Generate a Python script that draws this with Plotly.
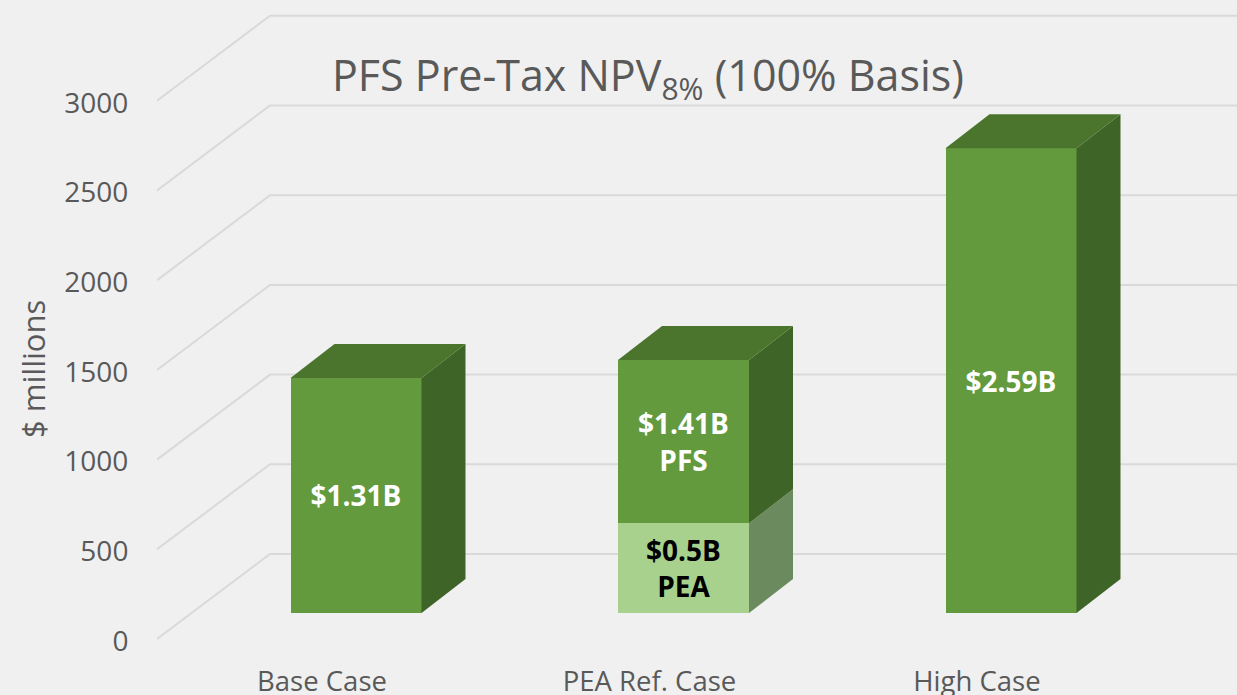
import plotly.graph_objects as go

categories = ["Base Case", "PEA Ref. Case", "High Case"]
pea_positions = [1]
pea_values = [500]
pfs_values = [1310, 910, 2590]
pfs_labels = ["<b>$1.31B</b>", "<b>$1.41B<br>PFS</b>", "<b>$2.59B</b>"]
pea_labels = ["<b>$0.5B<br>PEA</b>"]
y_ticks = [0, 500, 1000, 1500, 2000, 2500, 3000]

W, H = 1237, 695
PX_X = 327.5
PX_Y = 0.1794
LEFT, BOTTOM = 157, 656
X0PX, Y0PX = 356, 613


def xu(px):
    return (px - X0PX) / PX_X


def yu(px):
    return (Y0PX - px) / PX_Y


bar_w = 131 / PX_X
depth_x = 44 / PX_X
depth_y = 34 / PX_Y
x_range = [xu(LEFT), xu(W)]
y_range = [yu(BOTTOM), yu(0)]
wall_front_y = yu(639)
wall_back_y = yu(554)
wall_back_x = xu(270)
label_y = yu(641)
cat_shift = -34 / PX_X

FACE, TOP, SIDE = "#639A3E", "#4B742C", "#3F6427"
PEA_FACE, PEA_SIDE = "#A9D18E", "#6B8A5E"
TXT = "#595959"
FONT = "Open Sans"

fig = go.Figure()

# stacked front faces
fig.add_bar(x=pea_positions, y=pea_values, width=bar_w, marker=dict(color=PEA_FACE, line_width=0),
            text=pea_labels, textposition="inside", insidetextanchor="middle", textangle=0,
            insidetextfont=dict(family=FONT, size=28, color="#000000"), showlegend=False)
fig.add_bar(x=list(range(3)), y=pfs_values, width=bar_w, marker=dict(color=FACE, line_width=0),
            text=pfs_labels, textposition="inside", insidetextanchor="middle", textangle=0,
            insidetextfont=dict(family=FONT, size=28, color="#FFFFFF"), showlegend=False)


def face(xs, ys, color):
    fig.add_scatter(x=xs, y=ys, mode="lines", fill="toself", fillcolor=color,
                    line=dict(width=0, color=color), hoverinfo="skip", showlegend=False)


# depth faces derived from the values
for i in range(3):
    lo = 0
    xr = i + bar_w / 2
    xl = i - bar_w / 2
    segments = []
    if i in pea_positions:
        segments.append((pea_values[pea_positions.index(i)], PEA_SIDE))
    segments.append((pfs_values[i], SIDE))
    for seg, col in segments:
        hi = lo + seg
        face([xr, xr + depth_x, xr + depth_x, xr, xr],
             [lo, lo + depth_y, hi + depth_y, hi, lo], col)
        lo = hi
    face([xl, xl + depth_x, xr + depth_x, xr, xl],
         [lo, lo + depth_y, lo + depth_y, lo, lo], TOP)

# hidden trace keeping the offset label axes alive
fig.add_scatter(x=[0, 1, 2], y=[0, 0, 0], xaxis="x2", yaxis="y2", mode="markers",
                marker=dict(opacity=0), hoverinfo="skip", showlegend=False)

shapes = []
for v in y_ticks:
    path = (f"M {x_range[0]} {v + wall_front_y} L {wall_back_x} {v + wall_back_y} "
            f"L {x_range[1]} {v + wall_back_y}")
    shapes.append(dict(type="path", path=path, xref="x", yref="y", layer="below",
                       line=dict(color="#D9D9D9", width=2)))

fig.update_layout(
    width=W, height=H, autosize=False, barmode="stack",
    margin=dict(l=LEFT, r=0, t=0, b=H - BOTTOM, autoexpand=False),
    paper_bgcolor="#F0F0F0", plot_bgcolor="#F0F0F0",
    showlegend=False, shapes=shapes,
    title=dict(text="PFS Pre-Tax NPV<sub>8%</sub> (100% Basis)", x=648 / W, xanchor="center",
               y=1 - 76 / H, yanchor="middle", xref="container", yref="container",
               font=dict(family=FONT, size=43, color=TXT)),
    xaxis=dict(range=x_range, visible=False, fixedrange=True),
    yaxis=dict(range=y_range, visible=False, fixedrange=True),
    xaxis2=dict(overlaying="x", anchor="y2", side="bottom",
                range=[x_range[0] - cat_shift, x_range[1] - cat_shift],
                tickmode="array", tickvals=[0, 1, 2], ticktext=categories,
                showgrid=False, zeroline=False, showline=False,
                ticks="outside", ticklen=1, tickcolor="rgba(0,0,0,0)",
                tickfont=dict(family=FONT, size=27.5, color=TXT)),
    yaxis2=dict(overlaying="y", anchor="x2", side="left",
                range=[y_range[0] - label_y, y_range[1] - label_y],
                tickmode="array", tickvals=y_ticks, ticktext=[str(t) for t in y_ticks],
                showgrid=False, zeroline=False, showline=False,
                ticks="outside", ticklen=22, tickcolor="rgba(0,0,0,0)",
                tickfont=dict(family=FONT, size=28, color=TXT)),
    annotations=[dict(text="$ millions", x=(33 - LEFT) / (W - LEFT), y=1 - 369 / BOTTOM,
                      xref="paper", yref="paper",
                      textangle=-90, showarrow=False, xanchor="center", yanchor="middle",
                      font=dict(family=FONT, size=31, color=TXT))],
)

fig.write_html("out.html", config=dict(displayModeBar=False),
               post_script="document.body.style.margin='0';document.body.style.background='#F0F0F0';document.body.style.overflow='hidden';")
